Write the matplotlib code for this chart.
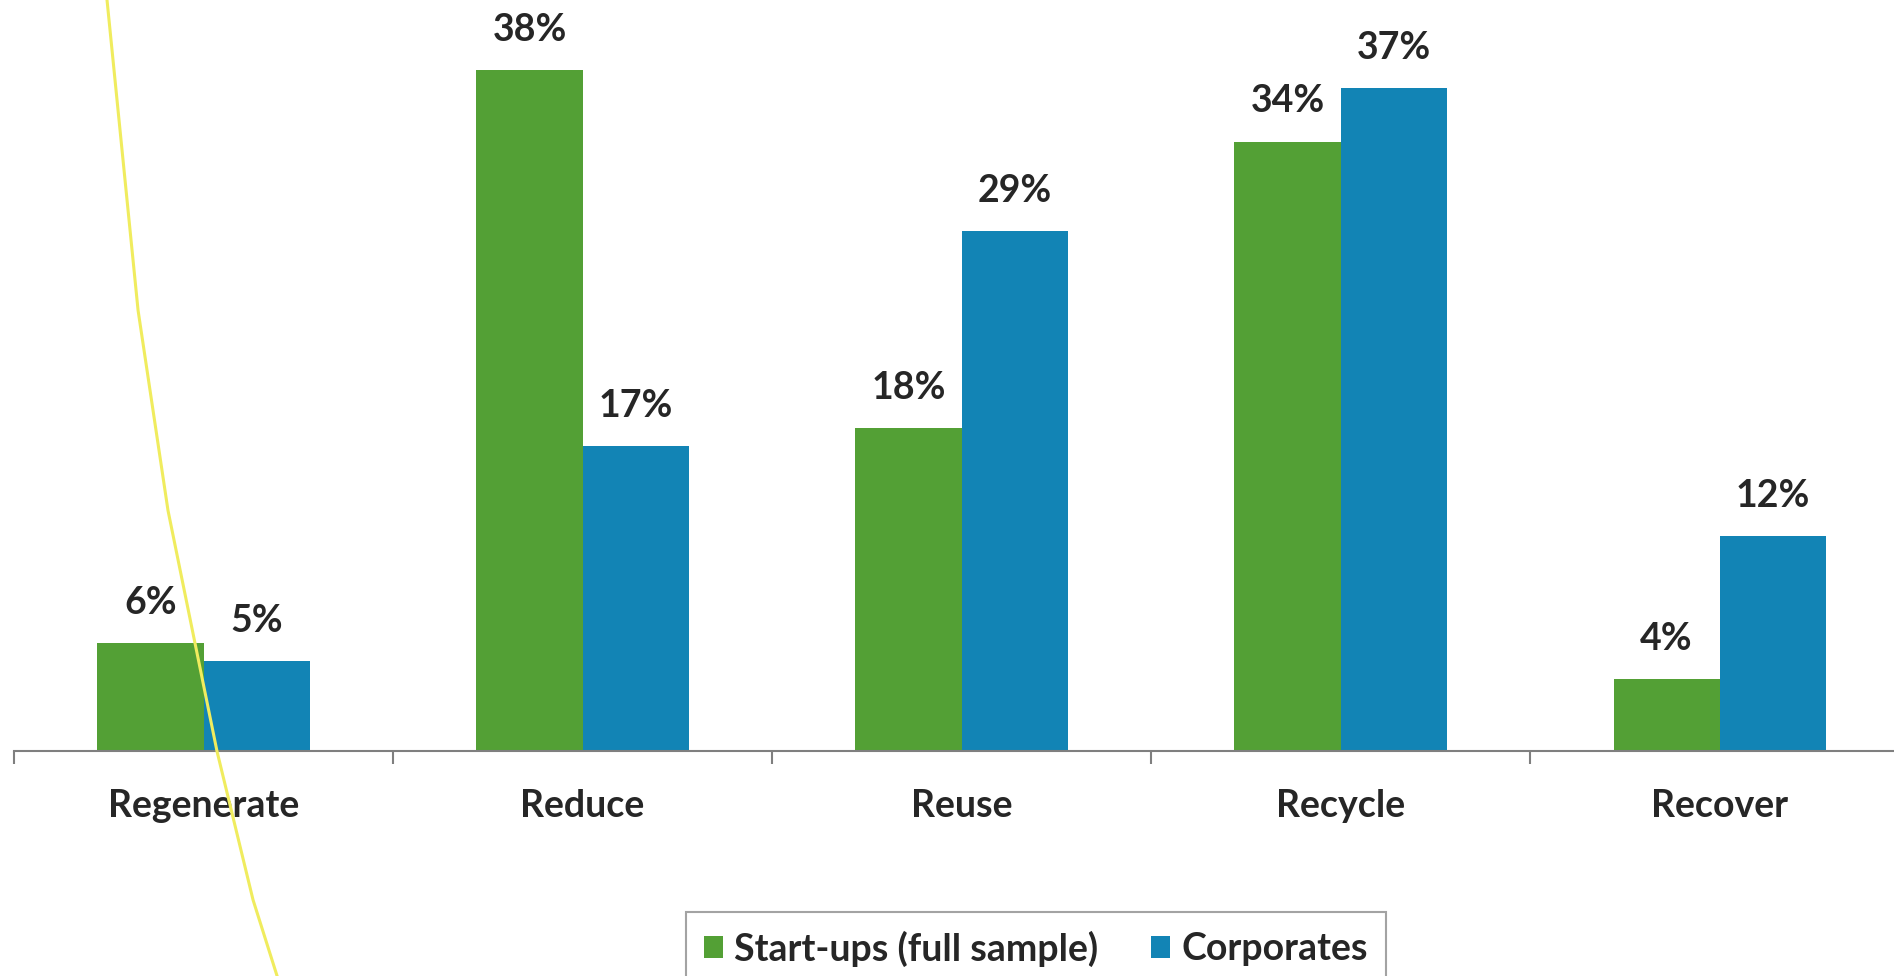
import matplotlib.pyplot as plt
from matplotlib.lines import Line2D
import numpy as np

categories = ['Regenerate', 'Reduce', 'Reuse', 'Recycle', 'Recover']
startups = [6, 38, 18, 34, 4]
corporates = [5, 17, 29, 37, 12]
series_names = ['Start-ups (full sample)', 'Corporates']

# hand-drawn yellow stroke over the picture (figure fraction)
stroke_x = [0.0565, 0.0729, 0.0887, 0.1146, 0.1336, 0.1463]
stroke_y = [1.0, 0.682, 0.477, 0.230, 0.078, 0.0]

green = '#53A035'
blue = '#1284B5'
txt = '#262626'

plt.rcParams['font.family'] = ['Lato', 'DejaVu Sans']

fig = plt.figure(figsize=(18.94, 9.76), dpi=100)
ax = fig.add_axes([0, 0, 1, 1])

x = np.arange(len(categories))
w = 0.28
b1 = ax.bar(x - w/2, startups, w, color=green, label=series_names[0])
b2 = ax.bar(x + w/2, corporates, w, color=blue, label=series_names[1])

for bars, vals in ((b1, startups), (b2, corporates)):
    for r, v in zip(bars, vals):
        ax.annotate(f'{v}%', (r.get_x() + r.get_width()/2, v),
                    xytext=(0, 29), textcoords='offset points',
                    ha='center', va='center', fontsize=27,
                    fontweight='bold', color=txt)

ax.set_xlim(-0.537, 4.46)
ax.set_ylim(-12.55, 41.9)

for s in ['top', 'right', 'left']:
    ax.spines[s].set_visible(False)
ax.spines['bottom'].set_position(('data', 0))
ax.spines['bottom'].set_color('#7f7f7f')
ax.spines['bottom'].set_linewidth(1.5)
ax.spines['bottom'].set_bounds(-0.5, 4.46)
ax.set_yticks([])

ax.set_xticks(x)
ax.set_xticklabels(categories, fontsize=27, fontweight='bold', color=txt)
ax.tick_params(axis='x', which='major', length=0, pad=27)
ax.set_xticks(np.arange(len(categories)) - 0.5, minor=True)
ax.tick_params(axis='x', which='minor', length=9, width=1.5, color='#7f7f7f')

leg = ax.legend(loc='upper center', bbox_to_anchor=(0.547, 0.066),
                bbox_transform=fig.transFigure, ncol=2, fontsize=27,
                frameon=True, fancybox=False, edgecolor='#8c8c8c',
                handlelength=0.5, handleheight=0.5, handletextpad=0.3,
                columnspacing=1.4, borderpad=0.5, borderaxespad=0)
for t in leg.get_texts():
    t.set_fontweight('bold')
    t.set_color(txt)
leg.get_frame().set_linewidth(1.5)

fig.add_artist(Line2D(stroke_x, stroke_y, color='#F0EC5E', lw=2.2,
                      transform=fig.transFigure, zorder=10))

fig.savefig('out.png', dpi=100)
